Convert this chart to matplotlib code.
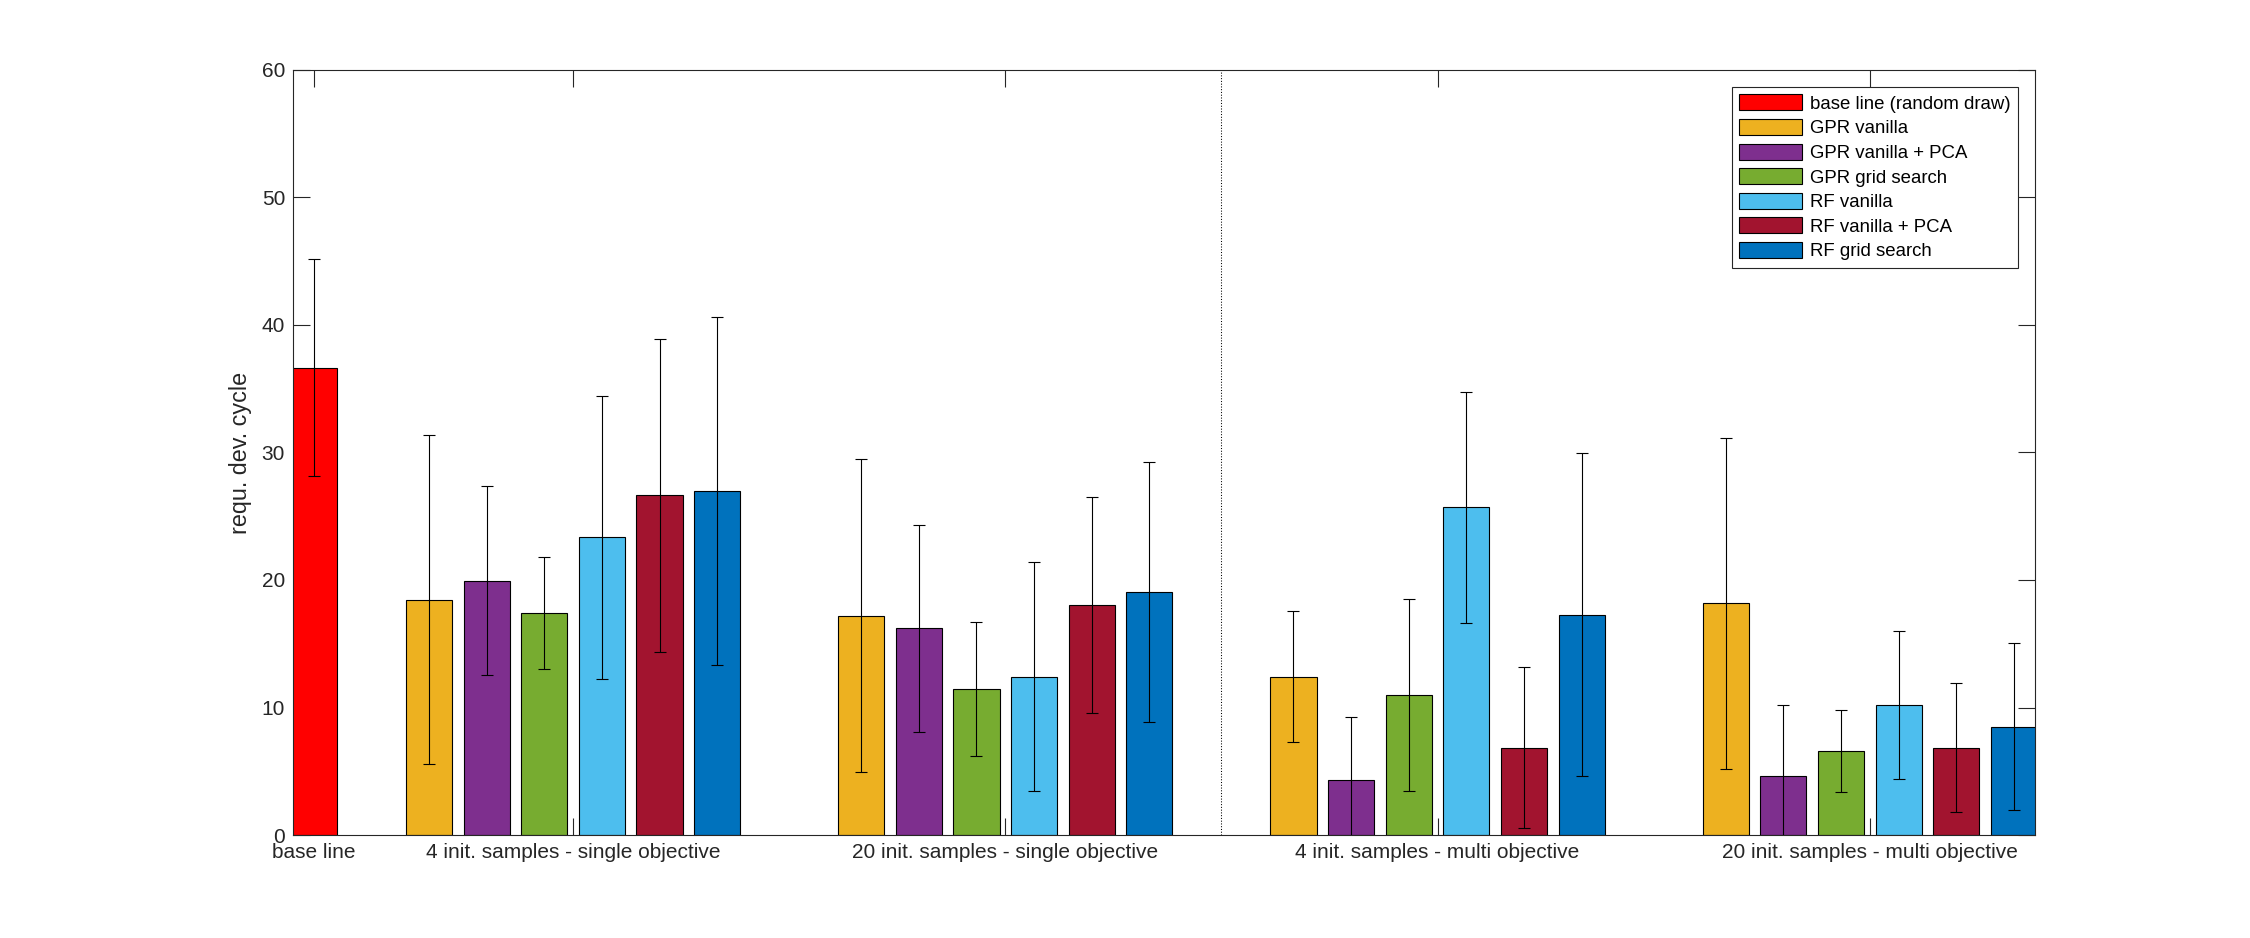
import matplotlib
matplotlib.use("Agg")
import matplotlib.pyplot as plt
import numpy as np

plt.rcParams['font.family'] = ['Liberation Sans', 'DejaVu Sans']

# ---------------- data ----------------
groups = ['4 init. samples - single objective',
          '20 init. samples - single objective',
          '4 init. samples - multi objective',
          '20 init. samples - multi objective']
baseline_label = 'base line'
baseline_legend = 'base line (random draw)'
baseline_mean = 36.65
baseline_std = 8.5

methods = ['GPR vanilla', 'GPR vanilla + PCA', 'GPR grid search',
           'RF vanilla', 'RF vanilla + PCA', 'RF grid search']

gpr_vanilla_mean = [18.46, 17.20, 12.43, 18.16]
gpr_pca_mean = [19.95, 16.20, 4.29, 4.61]
gpr_grid_mean = [17.42, 11.44, 10.97, 6.57]
rf_vanilla_mean = [23.35, 12.42, 25.69, 10.18]
rf_pca_mean = [26.64, 18.03, 6.85, 6.85]
rf_grid_mean = [27.00, 19.06, 17.29, 8.50]

gpr_vanilla_std = [12.89, 12.28, 5.15, 13.00]
gpr_pca_std = [7.40, 8.15, 4.95, 5.57]
gpr_grid_std = [4.38, 5.26, 7.54, 3.22]
rf_vanilla_std = [11.09, 8.99, 9.07, 5.81]
rf_pca_std = [12.27, 8.49, 6.33, 5.07]
rf_grid_std = [13.66, 10.21, 12.68, 6.56]

means = [gpr_vanilla_mean, gpr_pca_mean, gpr_grid_mean,
         rf_vanilla_mean, rf_pca_mean, rf_grid_mean]
stds = [gpr_vanilla_std, gpr_pca_std, gpr_grid_std,
        rf_vanilla_std, rf_pca_std, rf_grid_std]

baseline_color = '#FF0000'
colors = ['#EDB120', '#7E2F8E', '#77AC30', '#4DBEEE', '#A2142F', '#0072BD']

ylabel = 'requ. dev. cycle'

# ---------------- layout ----------------
fig = plt.figure(figsize=(22.5, 9.38), dpi=100)
ax = fig.add_axes([0.1304, 0.1098, 0.9044 - 0.1304, 0.9254 - 0.1098])

axc = '#262626'
n = len(methods)
spacing = 0.8 / n
width = spacing * 0.8
group_x = np.arange(1, len(groups) + 1)
base_x = 0.4

edge_lw = 0.8
err_kw = dict(fmt='none', ecolor='k', elinewidth=0.8, capsize=4.6, capthick=0.8, zorder=4)

ax.bar([base_x], [baseline_mean], width=width, color=baseline_color,
       edgecolor='k', linewidth=edge_lw, label=baseline_legend, zorder=2)
ax.errorbar([base_x], [baseline_mean], yerr=[baseline_std], **err_kw)

for i in range(n):
    xs = group_x + (i - (n - 1) / 2) * spacing
    ax.bar(xs, means[i], width=width, color=colors[i], edgecolor='k',
           linewidth=edge_lw, label=methods[i], zorder=2)
    ax.errorbar(xs, means[i], yerr=stds[i], **err_kw)

ax.axvline(2.5, color='k', ls=':', lw=0.75, zorder=1)

ax.set_xlim(0.353, 4.382)
ax.set_ylim(0, 60)
ax.set_yticks(np.arange(0, 61, 10))
ax.set_xticks([base_x] + list(group_x))
ax.set_xticklabels([baseline_label] + groups)

for sp in ax.spines.values():
    sp.set_color(axc)
    sp.set_linewidth(0.8)

ax.tick_params(axis='both', direction='in', length=12.2, width=0.8, color=axc,
               labelcolor=axc, labelsize=15, top=True, right=True)
ax.tick_params(axis='x', pad=6)
ax.tick_params(axis='y', pad=6)

ax.set_ylabel(ylabel, fontsize=16.8, color=axc, labelpad=7)

leg = ax.legend(loc='upper right', bbox_to_anchor=(0.9902, 0.9778), borderaxespad=0,
                fontsize=13.4, fancybox=False, framealpha=1, edgecolor=axc,
                handlelength=3.4, handleheight=0.95, labelspacing=0.33,
                handletextpad=0.4, borderpad=0.4)
leg.get_frame().set_linewidth(0.8)
for t in leg.get_texts():
    t.set_color('k')

fig.savefig('out.png', dpi=100, facecolor='white')
